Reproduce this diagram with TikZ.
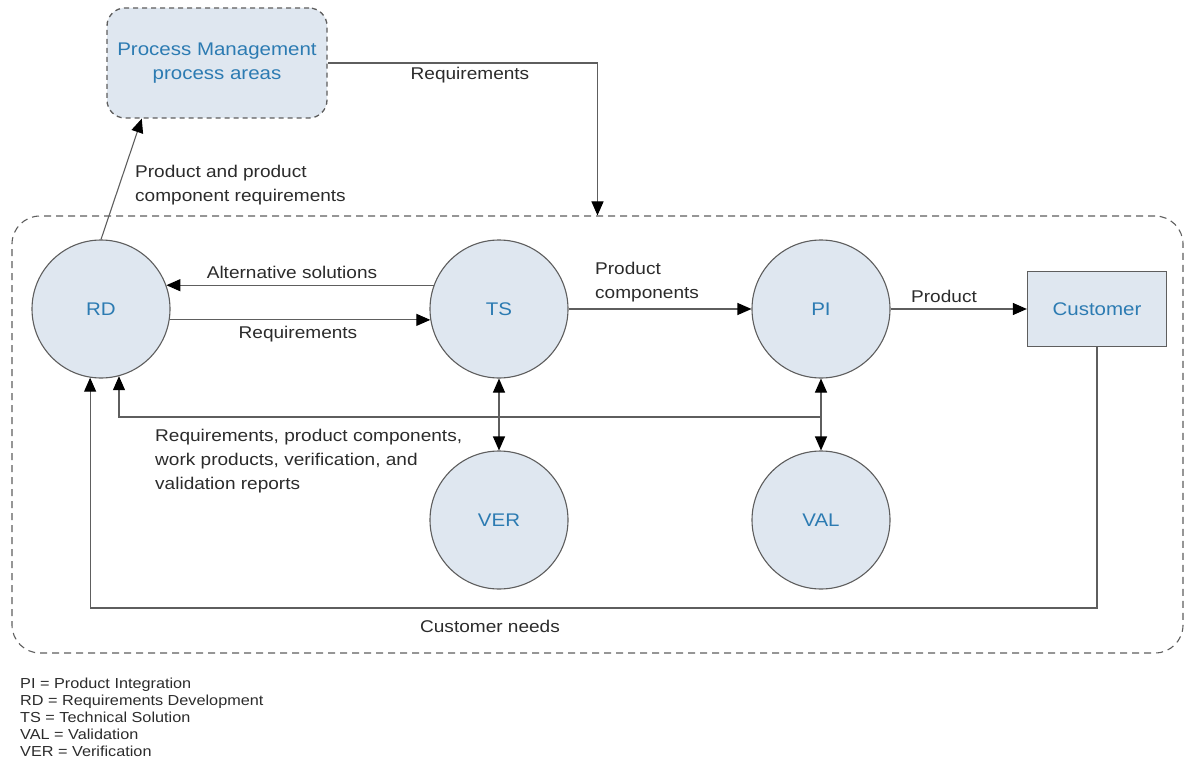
\documentclass[tikz,border=0pt]{standalone}
\usepackage{fontspec}
\setmainfont{Liberation Sans}[FakeStretch=1.12]
\usetikzlibrary{arrows.meta,calc}
\definecolor{nodefill}{HTML}{DFE7F0}
\definecolor{nodetext}{HTML}{2C7BB2}
\definecolor{linegray}{HTML}{5E5E5E}
\definecolor{labeltext}{HTML}{2B2B2B}
\begin{document}
\begin{tikzpicture}[x=1pt,y=-1pt,
  proc/.style={circle, draw=linegray, line width=1.1pt, fill=nodefill,
    minimum size=138pt, inner sep=0pt, text=nodetext,
    font=\fontsize{18.3}{22}\selectfont},
  pmbox/.style={rectangle, rounded corners=18pt, draw=linegray, line width=1.3pt,
    dash pattern=on 5pt off 4pt, fill=nodefill, minimum width=220pt,
    minimum height=110pt, inner sep=0pt, align=center, text=nodetext,
    font=\fontsize{18.3}{24}\selectfont},
  custbox/.style={rectangle, draw=linegray, line width=1.3pt, fill=nodefill,
    minimum width=139pt, minimum height=75pt, inner sep=0pt, text=nodetext,
    font=\fontsize{18.3}{22}\selectfont},
  areabox/.style={rectangle, rounded corners=28pt, draw=linegray, line width=1.1pt,
    dash pattern=on 7pt off 5pt, minimum width=1171pt, minimum height=437pt,
    inner sep=0pt},
  flow/.style={draw=linegray, line width=1.1pt, -{Triangle[length=14pt,width=12pt,color=black]}},
  twoway/.style={draw=linegray, line width=1.1pt,
    {Triangle[length=14pt,width=12pt,color=black]}-{Triangle[length=14pt,width=12pt,color=black]}},
  lbl/.style={font=\fontsize{17}{24}\selectfont, text=labeltext, align=left, inner sep=0pt},
  legend/.style={font=\fontsize{14.5}{17}\selectfont, text=labeltext, align=left, inner sep=0pt}
]
\useasboundingbox (0,0) rectangle (1186,770);

% enclosing dashed area
\node[areabox] (area) at (597.5,434.5) {};

% nodes
\node[pmbox] (pm) at (217,63) {Process Management\\process areas};
\node[proc] (rd) at (101,309) {RD};
\node[proc] (ts) at (499,309) {TS};
\node[proc] (pi) at (821,309) {PI};
\node[proc] (ver) at (499,520) {VER};
\node[proc] (val) at (821,520) {VAL};
\node[custbox] (cu) at (1097,309) {Customer};

% connectors
\draw[flow] (rd.north) -- ($(pm.south west)!0.16!(pm.south east)$);
\draw[flow] (pm.east) -| (area.north);
\draw[flow] (ts.160) -- (rd.20);
\draw[flow] (rd.-9) -- (ts.189);
\draw[flow] (ts.east) -- (pi.west);
\draw[flow] (pi.east) -- (cu.west);
\draw[twoway] (ts.south) -- (ver.north);
\draw[twoway] (pi.south) -- (val.north);
\coordinate (fb) at (821,417);
\draw[flow] (fb) -| (rd.-75.7);
\coordinate (cn) at (600,608);
\draw[flow] (cu.south) |- (cn) -| (rd.261.7);

% connector labels
\node[lbl, anchor=west] (l1) at (135,185) {Product and product\\component requirements};
\node[lbl] (l2) at (470,75) {Requirements};
\node[lbl] (l3) at (292,272) {Alternative solutions};
\node[lbl] (l4) at (298,334) {Requirements};
\node[lbl, anchor=west] (l5) at (595,282) {Product\\components};
\node[lbl] (l6) at (944,296) {Product};
\node[lbl, anchor=west] (l7) at (155,461) {Requirements, product components,\\work products, verification, and\\validation reports};
\node[lbl] (l8) at (490,626) {Customer needs};

% legend
\node[legend, anchor=north west] (leg) at (20,678) {PI = Product Integration\\RD = Requirements Development\\TS = Technical Solution\\VAL = Validation\\VER = Verification};
\end{tikzpicture}
\end{document}
